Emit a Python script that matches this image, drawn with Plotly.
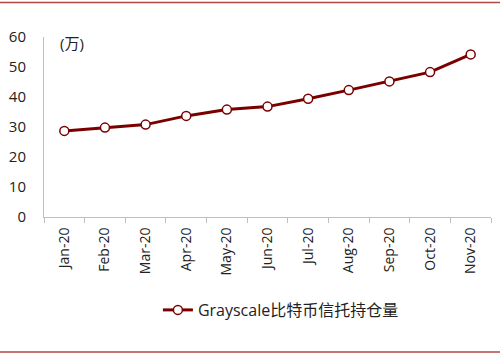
import plotly.graph_objects as go

months = ["Jan-20", "Feb-20", "Mar-20", "Apr-20", "May-20", "Jun-20",
          "Jul-20", "Aug-20", "Sep-20", "Oct-20", "Nov-20"]
holdings = [28.7, 29.8, 30.8, 33.7, 35.8, 36.8, 39.4, 42.3, 45.2, 48.3, 54.2]
y_ticks = [0, 10, 20, 30, 40, 50, 60]
series_name = "Grayscale比特币信托持仓量"
unit_label = "(万)"

dark_red = "#7a0000"
font_fam = "Open Sans, Noto Sans CJK SC, sans-serif"

fig = go.Figure()
fig.add_trace(go.Scatter(
    x=months, y=holdings, name=series_name, mode="lines+markers",
    line=dict(color=dark_red, width=3),
    marker=dict(size=9, color="white", line=dict(color=dark_red, width=1.5)),
))

L, R, T, B = 44, 9, 37, 137
W, H = 500, 354
pw, ph = W - L - R, H - T - B

fig.update_layout(
    width=W, height=H,
    margin=dict(l=L, r=R, t=T, b=B, pad=0),
    plot_bgcolor="white", paper_bgcolor="white",
    font=dict(family=font_fam, size=13, color="#222"),
    showlegend=True,
    legend=dict(orientation="h", x=0.53, xanchor="center", y=(217 - 310) / ph,
                yanchor="middle", font=dict(size=16, color="#222")),
    xaxis=dict(type="category", tickangle=-90, showline=True, linecolor="#bfbfbf",
               linewidth=1, ticks="outside", tickson="boundaries", ticklen=5,
               tickcolor="#bfbfbf", showgrid=False, tickfont=dict(size=14),
               ticklabelstandoff=4,
               range=[-0.5, len(months) - 0.5]),
    yaxis=dict(range=[0, 60], tickvals=y_ticks, showline=True, linecolor="#bfbfbf",
               linewidth=1, showgrid=False, zeroline=False, ticks="",
               tickfont=dict(size=15), ticklabelstandoff=14),
)

fig.add_annotation(text=unit_label, xref="paper", yref="paper",
                   x=(58 - L) / pw, y=(217 - 43) / ph, xanchor="left", yanchor="middle",
                   showarrow=False, font=dict(size=15, color="#222"))

for ypix in (2.5, 352):
    yp = (217 - ypix) / ph
    fig.add_shape(type="line", xref="paper", yref="paper",
                  x0=-L / pw, x1=(W - L) / pw, y0=yp, y1=yp,
                  line=dict(color="#b04848", width=1.5))

fig.write_html("out.html")
